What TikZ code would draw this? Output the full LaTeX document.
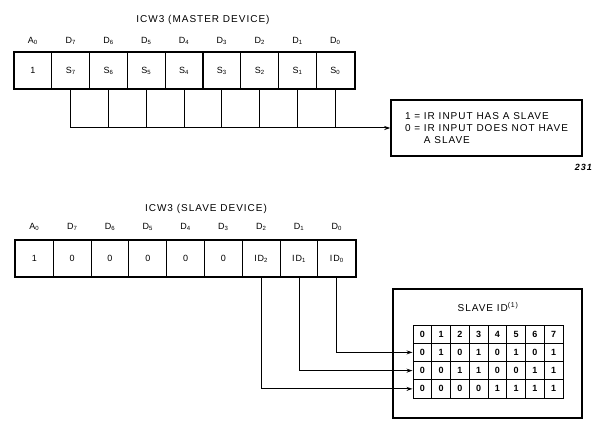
\documentclass[tikz,border=0pt]{standalone}
\usepackage{fontspec}
\setmainfont{Liberation Sans}[LetterSpace=10]
\usetikzlibrary{arrows.meta}

\begin{document}
\begin{tikzpicture}[x=1pt, y=-1pt, >={Stealth[length=6pt,width=4pt]},
    bitcell/.style={draw, line width=1.1pt, minimum width=37.8pt, minimum height=37pt, inner sep=0pt, font=\small},
    bitlbl/.style={font=\small},
    ttl/.style={font=\normalsize},
    idcell/.style={draw, line width=0.9pt, minimum width=18.75pt, minimum height=18.25pt, inner sep=0pt, font=\small\bfseries},
    wire/.style={line width=1pt}]
    \useasboundingbox (0,0) rectangle (593,430);
    % master
    \node[ttl] (mttl) at (203,20) {ICW3 (MASTER DEVICE)};
    \foreach \v [count=\i from 0] in {1,S\textsubscript{7},S\textsubscript{6},S\textsubscript{5},S\textsubscript{4},S\textsubscript{3},S\textsubscript{2},S\textsubscript{1},S\textsubscript{0}}{
        \pgfmathtruncatemacro\d{8-\i}
        \node[bitcell] (m\i) at ({14+37.8*(\i+0.5)},70.5) {\v};
        \node[bitlbl] (lm\i) at ({14+37.8*(\i+0.5)},41) {\ifnum\i=0 A\textsubscript{0}\else D\textsubscript{\d}\fi};
    }
    \draw[line width=1.8pt] (m0.north west) rectangle (m8.south east);
    \node[draw, line width=1.5pt, minimum width=191pt, minimum height=56pt, align=left, font=\normalsize] (note) at (486.5,128)
        {1 = IR INPUT HAS A SLAVE\\0 = IR INPUT DOES NOT HAVE\\\phantom{0 = }A SLAVE};
    \draw[wire,->] (m1.south) |- (note.west);
    \foreach \i in {2,...,8}
        \draw[wire] (m\i.south) -- (m\i.south |- note.west);
    \node[font=\small\bfseries\itshape, anchor=east, inner sep=1pt] (fig) at (593,167) {231};
    % slave
    \node[ttl] (sttl) at (206,209) {ICW3 (SLAVE DEVICE)};
    \foreach \v [count=\i from 0] in {1,0,0,0,0,0,ID\textsubscript{2},ID\textsubscript{1},ID\textsubscript{0}}{
        \pgfmathtruncatemacro\d{8-\i}
        \node[bitcell] (s\i) at ({15.5+37.8*(\i+0.5)},258.5) {\v};
        \node[bitlbl] (ls\i) at ({15.5+37.8*(\i+0.5)},227) {\ifnum\i=0 A\textsubscript{0}\else D\textsubscript{\d}\fi};
    }
    \draw[line width=1.8pt] (s0.north west) rectangle (s8.south east);
    \node[draw, line width=1.5pt, minimum width=189pt, minimum height=129pt] (idbox) at (487.5,353.5) {};
    \node[ttl] (idttl) at (488,307) {SLAVE ID\textsuperscript{(1)}};
    \foreach \r in {0,...,3}
        \foreach \c in {0,...,7}{
            \pgfmathtruncatemacro\b{\r==0 ? \c : mod(floor(\c/(2^(\r-1))),2)}
            \node[idcell] (t-\r-\c) at ({413+18.75*(\c+0.5)},{325+18.25*(\r+0.5)}) {\b};
        }
    \draw[wire,->] (s8.south) |- (t-1-0.west);
    \draw[wire,->] (s7.south) |- (t-2-0.west);
    \draw[wire,->] (s6.south) |- (t-3-0.west);
\end{tikzpicture}
\end{document}
